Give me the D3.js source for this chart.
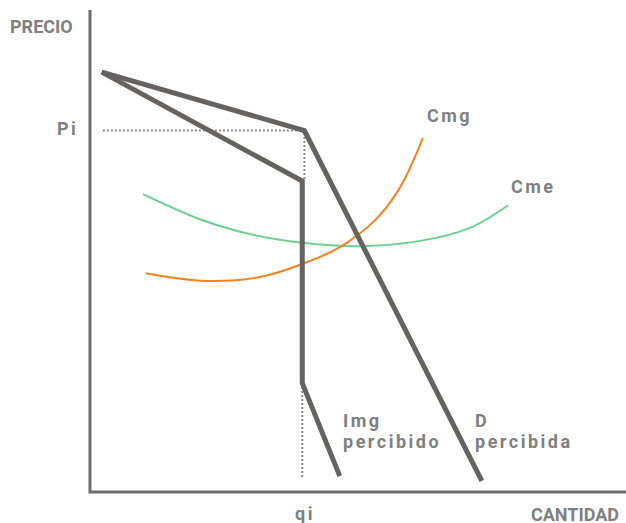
<!DOCTYPE html>
<html>
<head>
<meta charset="utf-8">
<script src="https://cdn.jsdelivr.net/npm/d3@7"></script>
<style>
  body { margin: 0; background: #fff; }
  text { font-family: Roboto, sans-serif; font-weight: 700; fill: #808080; }
</style>
</head>
<body>
<div id="visualization"></div>
<script>
const width = 626
const height = 523

/* Datos: curvas en unidades de cantidad (q) y precio (p) */
const demanda = [[2.2, 87.1], [40, 75], [73.1, 2.3]]
const img = [[2.2, 87.1], [39.6, 64.5], [39.6, 22.6], [46.6, 3.3]]
const cmgQ = [10.4, 21.6, 31.7, 39.6, 46.6, 53.2, 57.8, 62.1]
const cmgP = [45.4, 43.8, 44.6, 47.3, 50.8, 56.4, 63.1, 73.4]
const cmeQ = [9.9, 20.5, 29.9, 39.6, 50.4, 61.6, 70.9, 78.0]
const cmeP = [61.8, 56.6, 53.5, 51.7, 51.0, 52.1, 54.8, 59.5]
const Pi = 75
const qi = 39.6

const x = d3.scaleLinear().domain([0, 100]).range([90, 626])
const y = d3.scaleLinear().domain([0, 100]).range([492, 10])

const svg = d3.select('#visualization').append('svg').attr('width', width).attr('height', height)

/* Ejes */
svg.append('path')
    .attr('d', `M${x(0)},${y(100)}V${y(0)}H${x(100)}`)
    .attr('fill', 'none').attr('stroke', '#6f6c6c').attr('stroke-width', 3)

/* Líneas punteadas */
const punteado = [
    [[2.4, Pi], [qi + 0.4, Pi], [qi + 0.4, 64.5]],
    [[qi, 22.6], [qi, 2.9]],
]
const linea = d3.line().x(d => x(d[0])).y(d => y(d[1]))
svg.selectAll('path.dot')
    .data(punteado)
    .join('path')
    .attr('class', 'dot')
    .attr('d', linea)
    .attr('fill', 'none').attr('stroke', '#8a8888').attr('stroke-width', 2)
    .attr('stroke-dasharray', '2,2')

/* Costos */
const curva = d3.line().x(d => x(d[0])).y(d => y(d[1])).curve(d3.curveCatmullRom)
svg.append('path')
    .attr('d', curva(cmeQ.map((q, i) => [q, cmeP[i]])))
    .attr('fill', 'none').attr('stroke', '#6ccf92').attr('stroke-width', 2)
svg.append('path')
    .attr('d', curva(cmgQ.map((q, i) => [q, cmgP[i]])))
    .attr('fill', 'none').attr('stroke', '#f5821f').attr('stroke-width', 2)

/* Demanda e ingreso marginal percibidos */
svg.selectAll('path.dem')
    .data([demanda, img])
    .join('path')
    .attr('class', 'dem')
    .attr('d', linea)
    .attr('fill', 'none').attr('stroke', '#666262').attr('stroke-width', 5)
    .attr('stroke-linejoin', 'miter')

/* Textos */
const etiquetas = [
    { t: 'PRECIO', x: 10, y: 33, ls: 0 },
    { t: 'Pi', x: 57, y: 135, ls: 2.5 },
    { t: 'qi', x: 295, y: 520, ls: 2.5 },
    { t: 'CANTIDAD', x: 531, y: 521, ls: 0 },
    { t: 'Cmg', x: 427, y: 122, ls: 2.5 },
    { t: 'Cme', x: 511, y: 193, ls: 2.5 },
    { t: 'Img', x: 343, y: 427, ls: 2.5 },
    { t: 'percibido', x: 343, y: 448, ls: 2.5 },
    { t: 'D', x: 475, y: 427, ls: 2.5 },
    { t: 'percibida', x: 475, y: 448, ls: 2.5 },
]
svg.selectAll('text')
    .data(etiquetas)
    .join('text')
    .attr('x', d => d.x)
    .attr('y', d => d.y)
    .attr('font-size', 18)
    .attr('letter-spacing', d => d.ls)
    .text(d => d.t)
</script>
</body>
</html>
